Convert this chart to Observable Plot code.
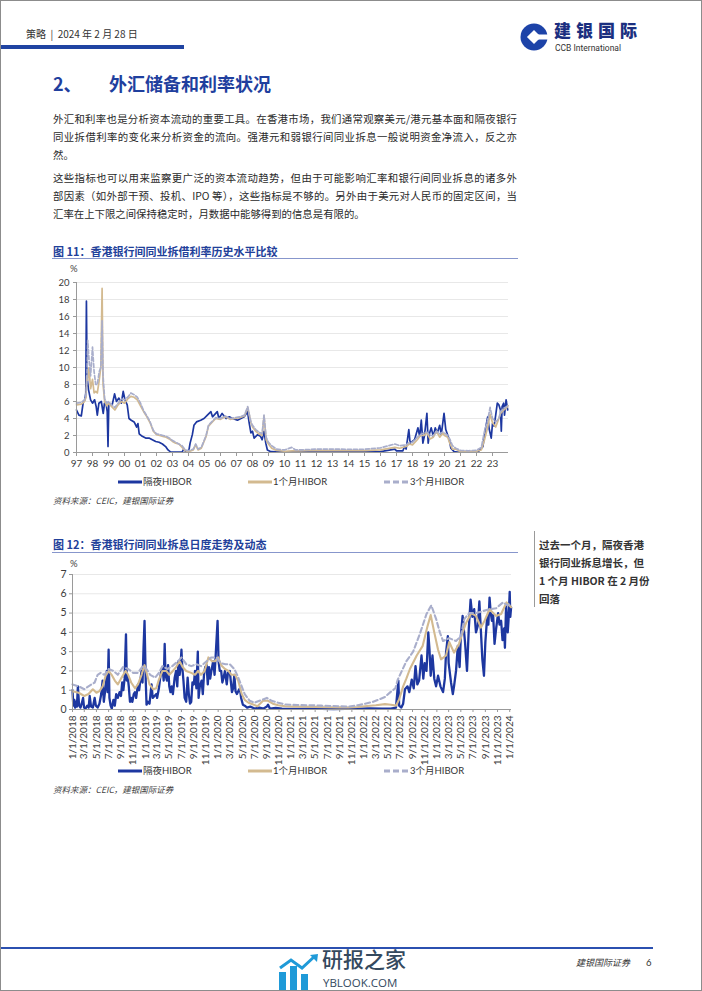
<!DOCTYPE html>
<html><head><meta charset="utf-8">
<script src="https://cdn.jsdelivr.net/npm/d3@7"></script>
<script src="https://cdn.jsdelivr.net/npm/@observablehq/plot@0.6"></script>
<style>
html,body{margin:0;padding:0;background:#fff;}
#page{position:relative;width:700px;height:989px;border:1px solid #8c8c8c;overflow:hidden;font-family:"Noto Sans CJK SC",sans-serif;color:#222;background:#fff;}
.abs{position:absolute;white-space:nowrap;}
.body{position:absolute;left:52px;width:464px;font-size:10.4px;line-height:14px;color:#2a2a2a;white-space:nowrap;}
.just{text-align:justify;text-align-last:justify;}
.ttl{position:absolute;left:52px;font-size:11px;line-height:14px;font-weight:700;color:#21409a;white-space:nowrap;}
.rule{position:absolute;left:51px;width:466px;height:0;border-top:1.5px solid #8796cc;}
.lg{position:absolute;font-family:Lato,"Noto Sans CJK SC",sans-serif;font-size:9.5px;line-height:12px;color:#333;white-space:nowrap;}
.src{position:absolute;left:52px;font-size:8.5px;line-height:11px;font-style:italic;color:#444;white-space:nowrap;}
.pct{position:absolute;font-family:Lato,sans-serif;font-size:9.5px;line-height:12px;color:#444;}
.side{position:absolute;left:538px;font-size:10.5px;line-height:16px;font-weight:700;color:#333;white-space:nowrap;}
</style></head>
<body>
<div id="page">
  <!-- header -->
  <div class="abs" style="left:25px;top:27px;font-size:10px;line-height:12px;color:#333">策略 &nbsp;|&nbsp; 2024 年 2 月 28 日</div>
  <div style="position:absolute;left:0;top:44px;width:183px;height:4px;background:#2044a2"></div>
  <svg style="position:absolute;left:519px;top:22px" width="28" height="28" viewBox="0 0 28 28">
    <circle cx="14" cy="14" r="13.5" fill="#1d43a8"/>
    <rect x="9" y="9" width="10" height="10" fill="#fff" transform="rotate(45 14 14)"/>
    <rect x="16" y="11.5" width="13" height="5" fill="#fff"/>
  </svg>
  <div class="abs" style="left:553px;top:19px;font-size:17px;line-height:20px;font-weight:900;color:#1b2f80;letter-spacing:5px">建银国际</div>
  <div class="abs" style="left:554px;top:42px;font-size:8.5px;line-height:10px;font-family:Roboto,sans-serif;color:#333">CCB International</div>

  <!-- section heading -->
  <div class="abs" style="left:52px;top:71px;font-size:18px;line-height:22px;font-weight:700;color:#1f3f9e">2、</div>
  <div class="abs" style="left:108px;top:71px;font-size:18px;line-height:22px;font-weight:700;color:#1f3f9e">外汇储备和利率状况</div>

  <!-- body text -->
  <div class="body just" style="top:111px">外汇和利率也是分析资本流动的重要工具。在香港市场，我们通常观察美元/港元基本面和隔夜银行</div>
  <div class="body just" style="top:129px">同业拆借利率的变化来分析资金的流向。强港元和弱银行间同业拆息一般说明资金净流入，反之亦</div>
  <div class="body" style="top:147px">然。</div>
  <div class="body just" style="top:170px">这些指标也可以用来监察更广泛的资本流动趋势，但由于可能影响汇率和银行间同业拆息的诸多外</div>
  <div class="body just" style="top:188px">部因素（如外部干预、投机、IPO 等），这些指标是不够的。另外由于美元对人民币的固定区间，当</div>
  <div class="body" style="top:206px">汇率在上下限之间保持稳定时，月数据中能够得到的信息是有限的。</div>

  <!-- chart 1 -->
  <div class="ttl" style="top:243px">图 11：香港银行间同业拆借利率历史水平比较</div>
  <div class="rule" style="top:257px"></div>
  <div class="pct" style="left:69px;top:262px">%</div>
  <div id="chart1" style="position:absolute;left:30px;top:262px"></div>
  <svg style="position:absolute;left:117px;top:479px" width="24" height="4"><line x1="0" y1="2" x2="24" y2="2" stroke="#1d37a0" stroke-width="3"/></svg>
  <div class="lg" style="left:142px;top:475px">隔夜HIBOR</div>
  <svg style="position:absolute;left:247px;top:479px" width="24" height="4"><line x1="0" y1="2" x2="24" y2="2" stroke="#d3ba90" stroke-width="3"/></svg>
  <div class="lg" style="left:272px;top:475px">1个月HIBOR</div>
  <svg style="position:absolute;left:383px;top:479px" width="24" height="4"><line x1="0" y1="2" x2="24" y2="2" stroke="#a9aecb" stroke-width="3" stroke-dasharray="6,3"/></svg>
  <div class="lg" style="left:409px;top:475px">3个月HIBOR</div>
  <div class="src" style="top:494px">资料来源：CEIC，建银国际证券</div>

  <!-- chart 2 -->
  <div class="ttl" style="top:536px">图 12：香港银行间同业拆息日度走势及动态</div>
  <div class="rule" style="top:551px"></div>
  <div class="pct" style="left:69px;top:557px">%</div>
  <div id="chart2" style="position:absolute;left:30px;top:555px"></div>
  <svg style="position:absolute;left:117px;top:768px" width="24" height="4"><line x1="0" y1="2" x2="24" y2="2" stroke="#1d37a0" stroke-width="3"/></svg>
  <div class="lg" style="left:142px;top:764px">隔夜HIBOR</div>
  <svg style="position:absolute;left:247px;top:768px" width="24" height="4"><line x1="0" y1="2" x2="24" y2="2" stroke="#d3ba90" stroke-width="3"/></svg>
  <div class="lg" style="left:272px;top:764px">1个月HIBOR</div>
  <svg style="position:absolute;left:383px;top:768px" width="24" height="4"><line x1="0" y1="2" x2="24" y2="2" stroke="#a9aecb" stroke-width="3" stroke-dasharray="6,3"/></svg>
  <div class="lg" style="left:409px;top:764px">3个月HIBOR</div>
  <div class="src" style="top:783px">资料来源：CEIC，建银国际证券</div>

  <!-- sidebar -->
  <div style="position:absolute;left:533px;top:530px;width:1px;height:76px;background:#9a9a9a"></div>
  <div class="side" style="top:536px">过去一个月，隔夜香港</div>
  <div class="side" style="top:554px">银行同业拆息增长，但</div>
  <div class="side" style="top:572px">1 个月 HIBOR 在 2 月份</div>
  <div class="side" style="top:590px">回落</div>

  <!-- footer -->
  <div style="position:absolute;left:0;top:946px;width:652px;height:2px;background:#2b50b0"></div>
  <svg style="position:absolute;left:276px;top:953px" width="44" height="36" viewBox="0 0 44 36">
    <rect x="2" y="18" width="7" height="18" fill="#1f9ad8"/>
    <rect x="13" y="12" width="7" height="24" fill="#1f9ad8"/>
    <rect x="24" y="20" width="7" height="16" fill="#1f9ad8"/>
    <polyline points="3,14 14,6 25,14 38,2" fill="none" stroke="#1f9ad8" stroke-width="3"/>
    <polygon points="33,1 41,0 40,8" fill="#1f9ad8"/>
  </svg>
  <div class="abs" style="left:321px;top:946px;font-size:21px;line-height:23px;color:#34495e;font-weight:500">研报之家</div>
  <div class="abs" style="left:322px;top:975px;font-size:11.5px;line-height:13px;font-family:'Open Sans',sans-serif;color:#34495e">YBLOOK.COM</div>
  <div class="abs" style="left:575px;top:956px;font-size:9px;line-height:12px;font-style:italic;color:#333">建银国际证券</div>
  <div class="abs" style="left:645px;top:956px;font-size:9.5px;line-height:12px;font-family:Lato,sans-serif;color:#333">6</div>
</div>

<script>
// ================= DATA =================
// Chart 1 (figure 11): decimal year, rate %
const c1YearLabels = ["97","98","99","00","01","02","03","04","05","06","07","08","09","10","11","12","13","14","15","16","17","18","19","20","21","22","23"];
const c1YTicks = [0,2,4,6,8,10,12,14,16,18,20];

const overnight1 = [
  [1997.0,5.0],[1997.15,4.4],[1997.3,4.3],[1997.42,5.9],[1997.52,6.2],[1997.58,7.0],[1997.62,17.8],[1997.66,8.9],[1997.75,7.4],[1997.88,6.2],
  [1998.0,5.8],[1998.13,6.2],[1998.23,5.4],[1998.3,4.4],[1998.4,5.8],[1998.55,6.0],[1998.67,4.6],[1998.75,5.8],[1998.86,5.6],[1998.92,4.8],[1998.97,0.7],
  [1999.02,5.8],[1999.23,5.6],[1999.38,6.9],[1999.5,6.0],[1999.65,6.4],[1999.8,5.8],[1999.92,7.2],
  [2000.03,6.2],[2000.17,5.6],[2000.28,4.0],[2000.42,3.8],[2000.6,3.6],[2000.76,3.0],[2000.84,3.4],[2000.92,2.2],
  [2001.11,1.9],[2001.32,1.7],[2001.53,1.7],[2001.74,1.5],[2001.95,1.3],
  [2002.16,1.2],[2002.37,1.0],[2002.57,0.7],[2002.72,0.3],[2002.89,0.05],
  [2003.3,0.05],[2003.6,0.05],[2003.7,0.4],[2003.85,0.05],
  [2004.03,0.3],[2004.1,1.1],[2004.24,2.1],[2004.34,3.2],[2004.5,3.6],[2004.76,3.8],[2004.97,4.0],
  [2005.18,4.4],[2005.4,4.8],[2005.5,4.2],[2005.7,4.6],[2005.8,4.8],[2005.9,4.0],
  [2006.1,4.6],[2006.35,4.0],[2006.55,4.2],[2006.75,4.0],
  [2007.06,3.8],[2007.27,4.0],[2007.48,4.2],[2007.69,4.8],[2007.8,3.4],[2007.9,2.3],
  [2008.0,2.5],[2008.1,1.7],[2008.32,2.1],[2008.5,1.9],[2008.6,1.5],[2008.72,2.5],[2008.83,1.1],[2008.93,0.3],
  [2009.15,0.1],[2010,0.05],[2011,0.08],[2012,0.1],[2013,0.08],[2014,0.07],[2015,0.07],[2016,0.1],[2016.9,0.4],
  [2017.0,0.2],[2017.4,0.2],[2017.5,0.7],[2017.6,0.4],[2017.77,2.7],[2017.85,1.1],
  [2018.13,1.5],[2018.34,2.9],[2018.45,1.9],[2018.55,3.8],[2018.65,1.1],[2018.75,2.0],[2018.9,4.6],[2018.98,1.1],
  [2019.07,2.3],[2019.17,2.9],[2019.3,1.9],[2019.42,2.9],[2019.55,2.3],[2019.7,3.2],[2019.8,2.1],[2019.97,4.6],
  [2020.08,2.7],[2020.3,1.5],[2020.4,0.5],[2020.6,0.1],[2020.8,0.05],
  [2022.1,0.05],[2022.2,0.3],[2022.4,0.7],[2022.55,2.7],[2022.7,4.2],[2022.8,2.7],[2022.92,1.7],
  [2023.0,3.4],[2023.1,3.1],[2023.2,4.4],[2023.3,5.8],[2023.4,5.6],[2023.5,5.0],[2023.55,2.5],[2023.6,5.4],[2023.7,5.8],[2023.75,4.4],[2023.85,6.2],[2023.95,5.0]
];
const oneMonth1 = [
  [1997.0,5.6],[1997.3,5.7],[1997.5,6.0],[1997.6,6.5],[1997.64,9.0],[1997.7,8.5],[1997.78,10.0],[1997.88,7.5],
  [1998.0,8.6],[1998.1,7.0],[1998.2,7.2],[1998.3,7.0],[1998.42,8.5],[1998.52,10.0],[1998.6,19.3],[1998.66,8.0],[1998.76,6.0],[1998.9,5.5],
  [1999.0,5.8],[1999.2,5.4],[1999.4,5.0],[1999.6,5.6],[1999.8,6.0],
  [2000.0,5.8],[2000.2,6.3],[2000.4,6.6],[2000.6,6.5],[2000.8,6.2],
  [2001.0,5.5],[2001.2,4.8],[2001.4,4.2],[2001.6,3.5],[2001.8,2.5],
  [2002.0,2.1],[2002.2,2.0],[2002.4,1.9],[2002.6,1.8],[2002.8,1.6],
  [2003.0,1.3],[2003.2,1.1],[2003.4,1.0],[2003.6,0.6],[2003.8,0.2],
  [2004.0,0.1],[2004.3,0.3],[2004.45,0.9],[2004.6,0.3],[2004.8,0.5],
  [2005.1,1.9],[2005.25,3.1],[2005.45,3.5],[2005.7,4.0],
  [2006.0,3.9],[2006.3,4.2],[2006.6,3.9],[2006.9,4.0],
  [2007.2,4.1],[2007.5,4.3],[2007.7,5.3],[2007.9,3.5],
  [2008.0,3.0],[2008.2,2.5],[2008.4,2.2],[2008.6,2.0],[2008.72,4.3],[2008.85,1.5],
  [2009.0,1.0],[2009.2,0.5],[2009.5,0.25],[2010,0.15],[2010.5,0.2],[2011,0.2],[2012,0.25],[2013,0.22],[2014,0.22],[2015,0.22],[2016,0.3],[2016.9,0.6],
  [2017.2,0.5],[2017.6,0.7],[2017.8,1.0],
  [2018.0,0.9],[2018.3,1.5],[2018.5,2.0],[2018.7,2.0],[2018.9,2.3],
  [2019.1,1.6],[2019.3,1.8],[2019.5,2.5],[2019.7,1.8],[2019.9,2.3],
  [2020.0,2.0],[2020.2,1.8],[2020.35,1.0],[2020.5,0.4],[2020.7,0.4],
  [2021.0,0.1],[2021.5,0.1],[2022.0,0.15],[2022.3,0.3],[2022.5,1.5],[2022.7,3.0],[2022.85,4.5],
  [2023.0,3.5],[2023.2,3.0],[2023.4,4.0],[2023.5,4.6],[2023.7,5.0],[2023.9,5.3],[2023.97,5.5]
];
const threeMonth1 = [
  [1997.0,5.8],[1997.3,5.9],[1997.5,6.2],[1997.6,6.8],[1997.65,8.5],[1997.7,13.2],[1997.78,11.0],[1997.88,9.0],
  [1998.0,12.4],[1998.1,9.5],[1998.2,8.0],[1998.3,8.0],[1998.42,9.5],[1998.52,10.0],[1998.6,15.5],[1998.66,9.0],[1998.76,6.3],[1998.9,5.8],
  [1999.0,6.0],[1999.2,5.6],[1999.4,5.3],[1999.6,5.8],[1999.8,6.3],
  [2000.0,6.2],[2000.2,6.5],[2000.4,7.0],[2000.6,6.8],[2000.8,6.5],
  [2001.0,5.8],[2001.2,4.9],[2001.4,4.3],[2001.6,3.6],[2001.8,2.6],
  [2002.0,2.2],[2002.2,2.1],[2002.4,2.0],[2002.6,1.9],[2002.8,1.7],
  [2003.0,1.4],[2003.2,1.2],[2003.4,1.0],[2003.6,0.8],[2003.8,0.3],
  [2004.0,0.2],[2004.3,0.4],[2004.45,1.0],[2004.6,0.4],[2004.8,0.6],
  [2005.1,2.0],[2005.25,3.2],[2005.45,3.6],[2005.7,4.1],
  [2006.0,4.0],[2006.3,4.3],[2006.6,4.0],[2006.9,4.1],
  [2007.2,4.2],[2007.5,4.4],[2007.7,5.4],[2007.9,3.6],
  [2008.0,3.2],[2008.2,2.7],[2008.4,2.4],[2008.6,2.2],[2008.72,4.4],[2008.85,1.8],
  [2009.0,1.2],[2009.2,0.8],[2009.5,0.4],[2010,0.3],[2010.45,0.6],[2010.7,0.3],[2011,0.3],[2012,0.4],[2013,0.4],[2014,0.38],[2015,0.38],[2016,0.55],[2016.9,1.0],
  [2017.2,0.8],[2017.6,0.9],[2017.8,1.2],
  [2018.0,1.2],[2018.3,1.8],[2018.5,2.1],[2018.7,2.3],[2018.9,2.4],
  [2019.1,2.0],[2019.3,2.0],[2019.5,2.5],[2019.7,2.2],[2019.9,2.4],
  [2020.0,2.3],[2020.2,2.0],[2020.35,1.5],[2020.5,0.8],[2020.7,0.5],
  [2021.0,0.25],[2021.5,0.2],[2022.0,0.25],[2022.3,0.6],[2022.5,2.5],[2022.7,3.8],[2022.85,5.3],
  [2023.0,4.0],[2023.2,3.6],[2023.4,4.0],[2023.5,4.8],[2023.7,5.2],[2023.9,5.4],[2023.97,5.6]
];

// Chart 2 (figure 12): date, rate %
const c2TickLabels = ["1/1/2018","3/1/2018","5/1/2018","7/1/2018","9/1/2018","11/1/2018","1/1/2019","3/1/2019","5/1/2019","7/1/2019","9/1/2019","11/1/2019","1/1/2020","3/1/2020","5/1/2020","7/1/2020","9/1/2020","11/1/2020","1/1/2021","3/1/2021","5/1/2021","7/1/2021","9/1/2021","11/1/2021","1/1/2022","3/1/2022","5/1/2022","7/1/2022","9/1/2022","11/1/2022","1/1/2023","3/1/2023","5/1/2023","7/1/2023","9/1/2023","11/1/2023","1/1/2024"];
const c2YTicks = [0,1,2,3,4,5,6,7];

const overnight2 = [
  ["2018-01-01",1.0],["2018-01-05",0.2],["2018-01-10",0.5],["2018-01-14",0.1],["2018-01-19",0.4],["2018-01-23",0.15],["2018-01-28",1.2],
  ["2018-02-03",0.2],["2018-02-10",0.1],["2018-02-16",0.3],["2018-02-23",0.6],["2018-02-28",0.1],
  ["2018-03-07",0.05],["2018-03-16",0.2],["2018-03-23",0.1],["2018-03-28",0.7],
  ["2018-04-04",0.15],["2018-04-13",0.1],["2018-04-22",0.6],["2018-04-28",0.2],
  ["2018-05-07",0.1],["2018-05-16",0.3],["2018-05-25",0.8],
  ["2018-06-01",1.5],["2018-06-07",0.4],["2018-06-14",1.0],["2018-06-22",2.0],["2018-06-26",0.9],
  ["2018-07-01",3.1],["2018-07-05",0.6],["2018-07-11",0.2],["2018-07-17",0.05],["2018-07-25",0.5],
  ["2018-08-01",0.2],["2018-08-08",0.8],["2018-08-16",0.6],["2018-08-25",0.9],
  ["2018-09-01",0.7],["2018-09-07",1.4],["2018-09-13",1.0],["2018-09-19",1.6],["2018-09-26",3.9],["2018-09-30",1.5],
  ["2018-10-04",1.8],["2018-10-10",1.2],["2018-10-16",0.4],["2018-10-22",0.6],["2018-10-28",0.4],
  ["2018-11-04",0.8],["2018-11-10",0.9],["2018-11-16",0.6],["2018-11-25",1.3],
  ["2018-12-01",1.0],["2018-12-07",1.5],["2018-12-13",2.0],["2018-12-18",1.4],["2018-12-23",3.2],["2018-12-28",4.6],
  ["2019-01-03",1.5],["2019-01-07",0.25],["2019-01-14",0.4],["2019-01-22",0.3],
  ["2019-02-01",1.3],["2019-02-07",0.6],["2019-02-16",0.7],["2019-02-25",0.8],
  ["2019-03-01",0.6],["2019-03-10",1.1],["2019-03-16",1.6],["2019-03-22",2.0],["2019-03-28",2.2],
  ["2019-04-03",1.5],["2019-04-08",3.4],["2019-04-12",1.8],["2019-04-19",1.5],["2019-04-25",2.3],
  ["2019-05-01",1.2],["2019-05-07",0.9],["2019-05-13",1.2],["2019-05-19",0.8],["2019-05-28",1.65],
  ["2019-06-04",2.0],["2019-06-10",1.2],["2019-06-16",2.5],["2019-06-22",1.8],["2019-06-26",2.2],
  ["2019-07-01",3.1],["2019-07-05",2.2],["2019-07-11",1.5],["2019-07-17",0.6],["2019-07-25",0.4],
  ["2019-08-01",1.65],["2019-08-07",0.8],["2019-08-13",0.3],["2019-08-19",0.4],["2019-08-25",1.4],
  ["2019-09-01",1.3],["2019-09-07",2.0],["2019-09-14",1.1],["2019-09-21",3.0],["2019-09-25",0.6],
  ["2019-10-01",1.2],["2019-10-10",1.5],["2019-10-16",0.8],["2019-10-22",1.8],["2019-10-28",2.2],
  ["2019-11-04",2.3],["2019-11-10",1.3],["2019-11-16",2.2],["2019-11-22",1.6],["2019-11-28",2.0],
  ["2019-12-07",2.5],["2019-12-14",1.8],["2019-12-20",2.9],["2019-12-29",4.6],
  ["2020-01-03",2.5],["2020-01-09",2.0],["2020-01-16",2.0],["2020-01-22",1.4],["2020-01-28",1.65],
  ["2020-02-04",2.0],["2020-02-13",1.3],["2020-02-19",1.9],["2020-02-28",2.0],
  ["2020-03-04",1.5],["2020-03-10",0.9],["2020-03-16",1.1],["2020-03-22",1.8],["2020-03-28",0.95],
  ["2020-04-04",0.8],["2020-04-13",1.0],["2020-04-19",1.1],["2020-04-25",0.6],
  ["2020-05-04",0.25],["2020-05-13",0.2],["2020-05-25",0.1],["2020-06-10",0.15],
  ["2020-07-01",0.05],["2020-07-25",0.1],["2020-08-16",0.05],["2020-09-01",0.15],["2020-09-07",0.25],["2020-09-16",0.05],
  ["2020-10-16",0.08],["2020-11-16",0.05],["2020-12-16",0.03],
  ["2021-02-01",0.03],["2021-04-01",0.04],["2021-06-01",0.03],["2021-08-01",0.02],["2021-10-01",0.03],["2021-12-01",0.05],
  ["2022-02-01",0.06],["2022-04-01",0.05],["2022-05-16",0.04],["2022-06-10",0.1],["2022-06-22",1.5],["2022-06-26",0.2],
  ["2022-07-07",0.1],["2022-07-16",0.3],["2022-07-25",1.05],
  ["2022-08-07",1.2],["2022-08-16",0.9],["2022-08-28",1.55],
  ["2022-09-07",1.1],["2022-09-16",2.25],["2022-09-25",1.3],
  ["2022-10-04",1.5],["2022-10-16",2.8],["2022-10-25",1.6],
  ["2022-11-01",2.4],["2022-11-10",2.0],["2022-11-19",4.0],["2022-11-25",3.1],
  ["2022-12-01",1.75],["2022-12-10",2.8],["2022-12-19",1.6],["2022-12-28",1.2],
  ["2023-01-07",1.75],["2023-01-19",1.2],
  ["2023-02-01",0.9],["2023-02-10",1.6],["2023-02-16",2.95],["2023-02-25",3.8],
  ["2023-03-01",2.4],["2023-03-13",1.4],["2023-03-22",0.8],["2023-03-28",1.2],
  ["2023-04-07",2.0],["2023-04-16",3.3],["2023-04-25",2.2],
  ["2023-05-01",3.8],["2023-05-10",4.85],["2023-05-22",3.5],
  ["2023-06-01",2.0],["2023-06-10",4.2],["2023-06-19",5.7],["2023-06-28",4.8],
  ["2023-07-07",5.2],["2023-07-16",4.0],["2023-07-25",4.35],
  ["2023-08-02",5.6],["2023-08-10",4.0],["2023-08-17",2.6],["2023-08-25",1.75],
  ["2023-09-01",3.5],["2023-09-10",4.8],["2023-09-16",4.4],["2023-09-22",5.8],["2023-09-28",5.0],
  ["2023-10-04",4.6],["2023-10-10",4.9],["2023-10-17",3.4],["2023-10-25",4.2],
  ["2023-11-04",5.0],["2023-11-11",4.4],["2023-11-19",4.6],["2023-11-26",3.6],
  ["2023-12-04",4.2],["2023-12-08",3.2],["2023-12-14",5.4],["2023-12-22",4.0],["2023-12-26",4.6],
  ["2024-01-01",6.1],["2024-01-04",4.8],["2024-01-08",5.3]
];
const oneMonth2 = [
  ["2018-01-01",0.95],["2018-02-01",0.87],["2018-03-01",0.7],["2018-03-22",0.8],["2018-04-13",1.05],["2018-05-01",0.87],["2018-05-16",0.95],
  ["2018-06-01",1.2],["2018-06-16",1.75],["2018-07-01",2.0],["2018-07-16",1.8],["2018-08-01",1.5],["2018-08-16",1.3],["2018-09-01",1.6],
  ["2018-09-24",2.0],["2018-10-07",1.8],["2018-10-22",1.4],["2018-11-10",1.1],["2018-11-25",1.3],["2018-12-13",1.8],["2018-12-28",2.3],
  ["2019-01-10",1.8],["2019-01-22",1.3],["2019-02-10",1.05],["2019-02-25",1.1],["2019-03-10",1.55],["2019-03-28",2.0],["2019-04-16",2.0],
  ["2019-05-01",1.8],["2019-05-19",2.0],["2019-06-04",2.2],["2019-06-22",2.5],["2019-07-07",2.2],["2019-07-25",2.0],["2019-08-19",1.9],
  ["2019-09-07",1.8],["2019-09-22",2.0],["2019-10-07",1.8],["2019-10-25",2.0],["2019-11-13",2.7],["2019-12-01",2.5],["2019-12-16",2.5],
  ["2020-01-01",2.7],["2020-01-16",2.3],["2020-02-04",2.1],["2020-02-22",2.0],["2020-03-07",1.8],["2020-03-25",1.8],["2020-04-10",1.5],
  ["2020-04-28",0.8],["2020-05-13",0.5],["2020-06-01",0.35],["2020-06-25",0.26],["2020-07-16",0.17],["2020-08-13",0.45],["2020-09-07",0.45],
  ["2020-10-01",0.3],["2020-10-28",0.22],["2020-12-01",0.17],
  ["2021-01-16",0.15],["2021-03-01",0.14],["2021-05-01",0.13],["2021-07-01",0.12],["2021-09-01",0.11],["2021-10-16",0.1],["2021-12-01",0.13],
  ["2022-01-16",0.18],["2022-03-01",0.22],["2022-04-16",0.28],["2022-05-16",0.25],["2022-06-10",0.2],["2022-06-25",0.5],["2022-07-16",1.2],
  ["2022-08-01",1.6],["2022-08-19",2.1],["2022-09-22",2.8],["2022-10-22",3.3],["2022-11-16",4.35],["2022-12-01",4.9],["2022-12-19",4.0],
  ["2023-01-07",3.1],["2023-01-22",2.6],["2023-02-16",2.8],["2023-03-04",3.5],["2023-03-28",2.95],["2023-04-22",3.4],["2023-05-10",4.0],
  ["2023-05-28",4.5],["2023-06-22",5.0],["2023-07-16",4.85],["2023-08-10",4.25],["2023-08-28",4.6],["2023-09-22",5.2],["2023-10-25",4.85],
  ["2023-11-19",4.95],["2023-12-16",5.55],["2024-01-08",5.3]
];
const threeMonth2 = [
  ["2018-01-01",1.3],["2018-02-01",1.2],["2018-03-01",1.05],["2018-03-22",1.2],["2018-04-22",1.4],["2018-05-07",1.8],["2018-05-22",1.9],
  ["2018-06-10",1.8],["2018-07-01",2.1],["2018-07-25",2.0],["2018-08-16",1.8],["2018-09-11",2.2],["2018-10-07",2.1],["2018-11-01",1.9],
  ["2018-11-25",1.9],["2018-12-19",2.25],
  ["2019-01-07",2.1],["2019-01-25",1.8],["2019-02-19",1.65],["2019-03-10",1.9],["2019-03-28",2.25],["2019-04-22",2.1],["2019-05-16",2.25],
  ["2019-06-13",2.5],["2019-07-01",2.7],["2019-07-25",2.35],["2019-08-19",2.25],["2019-09-13",2.35],["2019-10-07",2.25],["2019-11-04",2.5],
  ["2019-11-28",2.7],["2019-12-22",2.7],
  ["2020-01-16",2.4],["2020-02-07",2.35],["2020-02-28",2.35],["2020-03-22",2.1],["2020-04-07",1.75],["2020-04-28",1.2],["2020-05-13",0.8],
  ["2020-06-07",0.45],["2020-07-01",0.35],["2020-08-07",0.5],["2020-09-01",0.6],["2020-09-25",0.45],["2020-10-28",0.35],["2020-12-01",0.26],
  ["2021-02-01",0.23],["2021-04-01",0.22],["2021-06-01",0.2],["2021-08-01",0.18],["2021-10-16",0.15],["2021-12-01",0.22],
  ["2022-01-07",0.3],["2022-02-16",0.4],["2022-03-13",0.5],["2022-04-16",0.65],["2022-05-13",0.9],["2022-06-07",1.1],["2022-06-19",1.55],
  ["2022-08-01",2.5],["2022-09-04",3.0],["2022-10-07",3.9],["2022-11-10",4.95],["2022-12-04",5.4],["2022-12-28",4.7],
  ["2023-01-16",4.0],["2023-02-01",3.55],["2023-03-04",3.7],["2023-04-07",3.55],["2023-05-01",3.8],["2023-05-19",4.7],["2023-06-13",5.0],
  ["2023-07-16",5.0],["2023-08-19",5.1],["2023-09-22",5.2],["2023-10-25",5.25],["2023-11-28",5.55],["2023-12-22",5.4],["2024-01-08",5.5]
];

// ================= RENDER =================
const BLUE = "#1d37a0", TAN = "#d3ba90", LAV = "#a9aecb";
const FONT = "Lato, 'Noto Sans CJK SC', sans-serif";
const parseD = s => { const [y, m, d] = s.split("-").map(Number); return new Date(Date.UTC(y, m - 1, d)); };
const parseTick = s => { const [m, d, y] = s.split("/").map(Number); return new Date(Date.UTC(y, m - 1, d)); };

// chart 1
const c1Ticks = c1YearLabels.map((s, i) => 1997 + i);
const chart1 = Plot.plot({
  width: 490, height: 211,
  marginLeft: 45, marginRight: 13, marginTop: 19, marginBottom: 22,
  style: {fontFamily: FONT, fontSize: "9.5px", color: "#3c3c3c", background: "transparent", overflow: "visible"},
  x: {type: "linear", domain: [1997, 2024]},
  y: {domain: [0, 20]},
  marks: [
    Plot.gridY(c1YTicks.filter(d => d > 0), {stroke: "#e8e8e8", strokeOpacity: 1}),
    Plot.line(overnight1, {x: d => d[0], y: d => d[1], stroke: BLUE, strokeWidth: 1.7}),
    Plot.line(oneMonth1, {x: d => d[0], y: d => d[1], stroke: TAN, strokeWidth: 1.7}),
    Plot.line(threeMonth1, {x: d => d[0], y: d => d[1], stroke: LAV, strokeWidth: 1.7, strokeDasharray: "4,2"}),
    Plot.ruleX([1997], {stroke: "#9a9a9a"}),
    Plot.ruleY([0], {stroke: "#9a9a9a"}),
    Plot.axisY(c1YTicks, {tickSize: 3, tickPadding: 4, label: null, stroke: "#9a9a9a"}),
    Plot.axisX(c1Ticks, {tickSize: 4, tickPadding: 3, label: null, stroke: "#9a9a9a",
      tickFormat: d => c1YearLabels[d - 1997], fontSize: 10})
  ]
});
document.getElementById("chart1").append(chart1);

// chart 2
const c2Ticks = c2TickLabels.map(parseTick);
const on2 = overnight2.map(([d, v]) => ({x: parseD(d), y: v}));
const m1_2 = oneMonth2.map(([d, v]) => ({x: parseD(d), y: v}));
const m3_2 = threeMonth2.map(([d, v]) => ({x: parseD(d), y: v}));
const x0 = parseD("2018-01-01"), x1 = parseD("2024-01-10");
const chart2 = Plot.plot({
  width: 490, height: 210,
  marginLeft: 41, marginRight: 10, marginTop: 18, marginBottom: 57,
  style: {fontFamily: FONT, fontSize: "10px", color: "#3c3c3c", background: "transparent", overflow: "visible"},
  x: {type: "utc", domain: [x0, x1]},
  y: {domain: [0, 7]},
  marks: [
    Plot.gridY(c2YTicks.filter(d => d > 0), {stroke: "#e8e8e8", strokeOpacity: 1}),
    Plot.line(on2, {x: "x", y: "y", stroke: BLUE, strokeWidth: 2.3}),
    Plot.line(m1_2, {x: "x", y: "y", stroke: TAN, strokeWidth: 2.1}),
    Plot.line(m3_2, {x: "x", y: "y", stroke: LAV, strokeWidth: 2.1, strokeDasharray: "5,3"}),
    Plot.ruleX([x0], {stroke: "#9a9a9a"}),
    Plot.ruleY([0], {stroke: "#9a9a9a"}),
    Plot.axisY(c2YTicks, {tickSize: 3, tickPadding: 3, label: null, stroke: "#9a9a9a", fontSize: 10.5}),
    Plot.axisX(c2Ticks, {tickSize: 3, tickPadding: 3, label: null, stroke: "#9a9a9a", tickRotate: -90,
      tickFormat: d => `${d.getUTCMonth() + 1}/${d.getUTCDate()}/${d.getUTCFullYear()}`, fontSize: 10})
  ]
});
document.getElementById("chart2").append(chart2);
</script>
</body></html>
